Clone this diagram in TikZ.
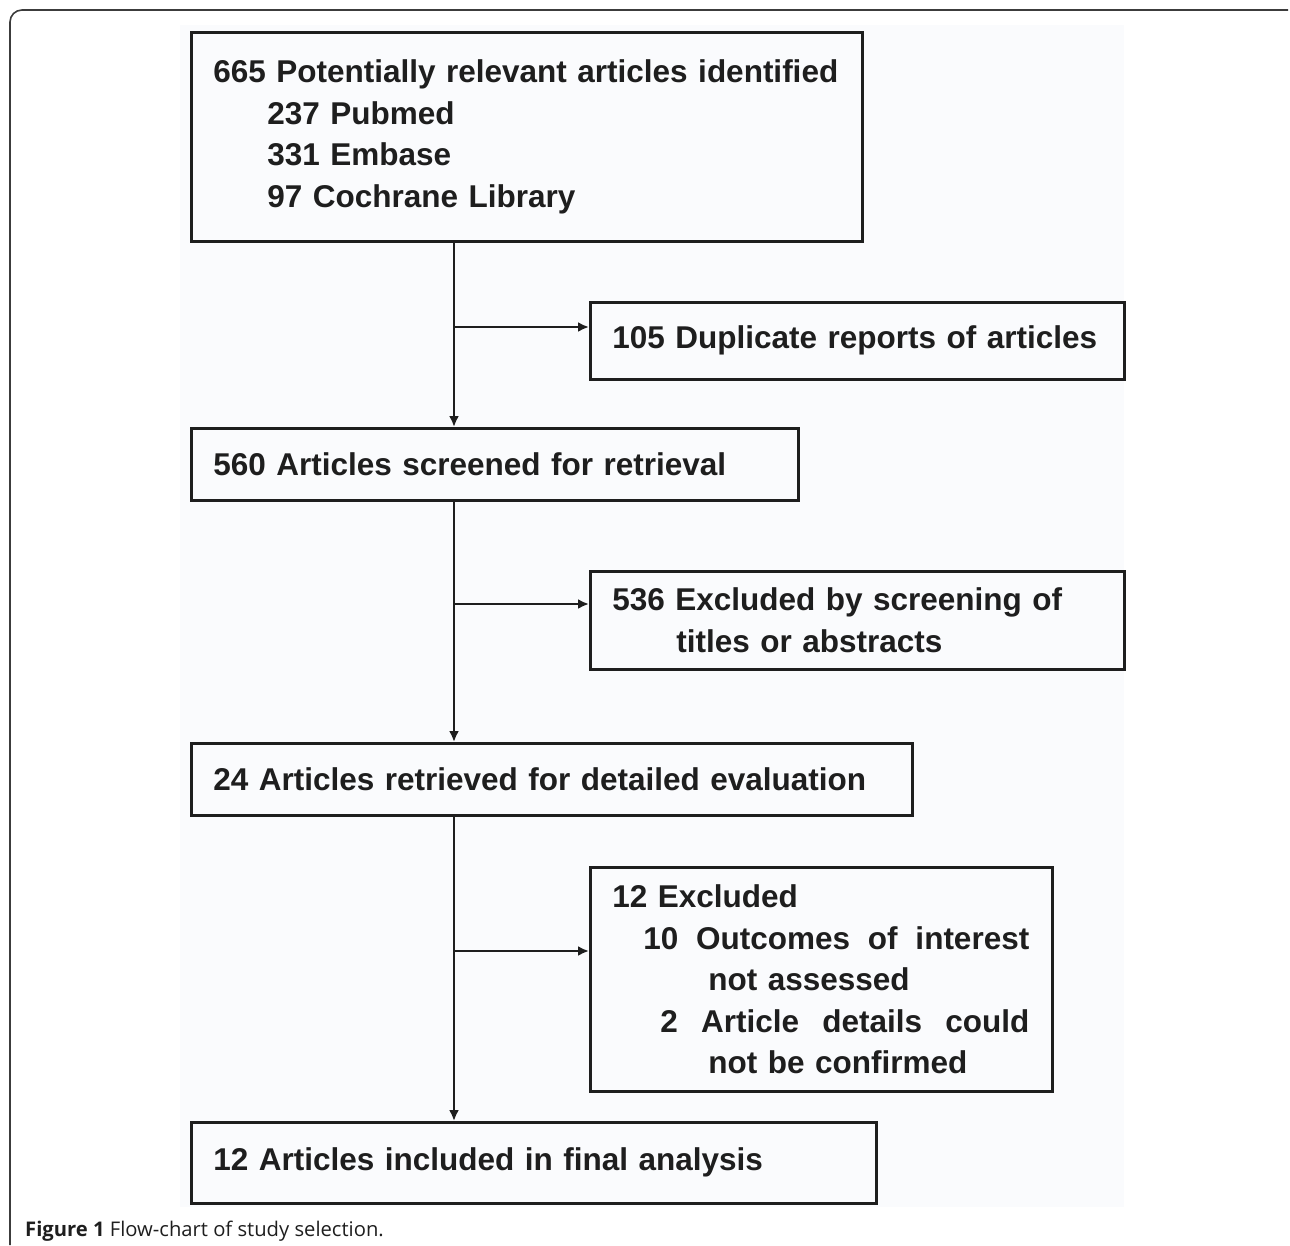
\documentclass[tikz,border=0pt]{standalone}
\usepackage{fontspec}
\setmainfont{Liberation Sans}
\newfontfamily\capfont{Open Sans}
\usetikzlibrary{arrows.meta}
\definecolor{panel}{RGB}{250,251,253}
\definecolor{ink}{RGB}{30,30,30}
\definecolor{frameline}{RGB}{60,60,60}
\hyphenpenalty=10000
\exhyphenpenalty=10000

\begin{document}
\begin{tikzpicture}[x=1pt, y=-1pt,
    box/.style = {draw=ink, line width=2.6pt, anchor=north west, align=left,
      inner xsep=22pt, inner ysep=0pt, text=ink,
      font=\bfseries\fontsize{31.5}{41.5}\selectfont},
    arr/.style = {draw=ink, line width=2.4pt, -{Latex[length=11pt,width=10pt]}}]
  \useasboundingbox (0,0) rectangle (1290,1245);
  % frame and panel
  \draw[frameline, line width=1.6pt, rounded corners=12pt] (10,1245) -- (10,10) -- (1288,10);
  \fill[panel] (180,25) rectangle (1124,1207);

  % boxes
  \node[box, text width=627pt, minimum height=209pt] (b665) at (190,31)
    {665 Potentially relevant articles identified\\
     \hspace*{54pt}237 Pubmed\\
     \hspace*{54pt}331 Embase\\
     \hspace*{54pt}97 Cochrane Library};
  \node[box, text width=490pt, minimum height=77pt] (b105) at (589,301)
    {105 Duplicate reports of articles};
  \node[box, text width=563pt, minimum height=72pt] (b560) at (190,427)
    {560 Articles screened for retrieval};
  \node[box, text width=490pt, minimum height=98pt] (b536) at (589,570)
    {536 Excluded by screening of\\
     \hspace*{64pt}titles or abstracts};
  \node[box, text width=677pt, minimum height=72pt] (b24) at (190,742)
    {24 Articles retrieved for detailed evaluation};
  \node[box, text width=418pt, minimum height=224pt] (b12x) at (589,866)
    {12 Excluded\\
     \hspace*{31pt}\hbox to 386pt{10\hfill Outcomes\hfill of\hfill interest}\\
     \hspace*{96pt}not assessed\\
     \hspace*{48pt}\hbox to 369pt{2\hfill Article\hfill details\hfill could}\\
     \hspace*{96pt}not be confirmed};
  \node[box, text width=641pt, minimum height=81pt] (b12) at (190,1121)
    {12 Articles included in final analysis};

  % spine and side arrows
  \coordinate (sp) at (454,0);
  \coordinate (j1) at (454,327);
  \coordinate (j2) at (454,604);
  \coordinate (j3) at (454,951);
  \draw[arr] (b665.south -| sp) -- (b560.north -| sp);
  \draw[arr] (b560.south -| sp) -- (b24.north -| sp);
  \draw[arr] (b24.south -| sp) -- (b12.north -| sp);
  \draw[arr] (j1) -- (j1 -| b105.west);
  \draw[arr] (j2) -- (j2 -| b536.west);
  \draw[arr] (j3) -- (j3 -| b12x.west);

  % caption
  \node[anchor=base west, inner sep=0pt, text=ink,
    font=\capfont\fontsize{20.2}{22}\selectfont] (cap) at (25,1236)
    {\textbf{Figure 1} Flow-chart of study selection.};
\end{tikzpicture}
\end{document}
